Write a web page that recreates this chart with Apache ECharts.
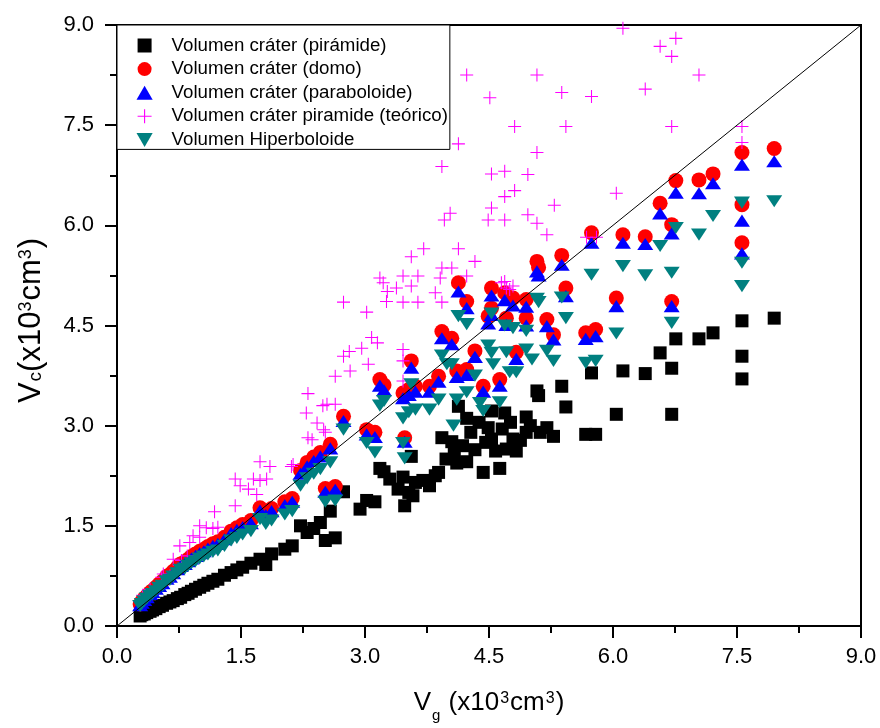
<!DOCTYPE html>
<html>
<head>
<meta charset="utf-8">
<script src="https://cdn.jsdelivr.net/npm/echarts@6/dist/echarts.min.js"></script>
<style>
  html, body { margin: 0; padding: 0; background: #fff; }
  #main { width: 880px; height: 728px; }
</style>
</head>
<body>
<div id="main"></div>
<script>
// volumen pirámide (negro)
var piramide = [
  [7.95,4.61],[7.56,4.57],[7.56,4.04],[7.56,3.70],[7.21,4.39],[7.04,4.30],[6.76,4.30],[6.71,3.86],[6.71,3.17],[6.57,4.09],
  [6.39,3.78],[6.12,3.82],[6.04,3.17],[5.79,2.87],[5.74,3.79],[5.67,2.87],[5.43,3.28],[5.38,3.59],[5.28,2.84],[5.20,2.97],
  [5.08,3.52],[5.10,3.45],
  [4.95,3.13],[4.95,2.90],[4.83,2.62],[4.79,2.80],[4.71,2.65],[4.69,3.19],[4.63,2.36],[4.53,3.22],[4.53,2.80],[4.49,2.97],
  [4.43,2.30],[4.33,2.64],[4.23,3.11],[4.23,2.46],[4.13,3.29],[4.11,2.44],[4.05,2.76],[3.93,2.82],[3.89,2.30],[3.78,2.10],
  [3.61,2.15],[3.56,2.54],[3.53,2.00],[3.48,1.80],[3.46,2.23],[3.23,2.31],[3.18,2.36],[3.12,1.86],[3.02,1.88],[2.74,2.01],
  [3.40,2.05],[3.58,1.95],[3.70,2.18],[3.85,2.25],[3.98,2.50],[4.08,2.60],[4.18,2.70],[4.28,2.90],[4.38,3.05],[4.46,2.75],
  [4.58,2.62],[4.66,2.95],[4.76,3.05],[4.88,2.78],[5.00,3.00],[5.12,2.90],[3.30,2.20],[2.94,1.75],
  [2.64,1.32],[2.58,1.72],[2.52,1.28],[2.46,1.55],[2.38,1.46],[2.30,1.40],[2.22,1.50],[2.12,1.20],[2.03,1.15],[1.87,1.08],
  [1.80,0.92],[1.73,1.00],[1.62,0.94],[1.52,0.88],[1.45,0.84],[1.38,0.80],[1.30,0.76],[1.22,0.70],[1.16,0.67],[1.10,0.64],
  [1.05,0.61],[1.00,0.58],[0.95,0.55],[0.90,0.52],[0.86,0.49],[0.82,0.47],[0.77,0.43],[0.73,0.41],[0.68,0.38],[0.64,0.36],
  [0.60,0.34],[0.55,0.31],[0.51,0.29],[0.47,0.26],[0.43,0.24],[0.40,0.22],[0.36,0.20],[0.33,0.18],[0.30,0.17],[0.28,0.15]
];
// volumen domo (rojo)
var domo = [
  [7.95,7.15],[7.56,7.09],[7.56,6.31],[7.56,5.74],[7.21,6.77],[7.04,6.68],[6.76,6.67],[6.71,6.01],[6.71,4.86],[6.57,6.33],
  [6.39,5.83],[6.12,5.86],[6.04,4.91],[5.79,4.44],[5.74,5.89],[5.67,4.39],[5.43,5.06],[5.38,5.55],[5.28,4.36],[5.20,4.59],
  [5.08,5.46],[5.10,5.37],
  [4.95,4.89],[4.95,4.61],[4.83,4.10],[4.79,4.91],[4.71,4.61],[4.69,4.99],[4.63,3.69],[4.53,5.06],[4.53,4.76],[4.49,4.64],
  [4.43,3.59],[4.33,4.12],[4.23,4.86],[4.23,3.84],[4.13,5.14],[4.11,3.82],[4.05,4.31],[3.93,4.41],[3.89,3.74],[3.78,3.59],
  [3.61,3.59],[3.56,3.97],[3.53,3.54],[3.48,2.82],[3.46,3.49],[3.23,3.61],[3.18,3.69],[3.12,2.90],[3.02,2.94],[2.74,3.14],
  [2.64,2.09],[2.58,2.72],[2.52,2.06],[2.46,2.60],[2.38,2.53],[2.30,2.45],[2.22,2.33],[2.12,1.91],[2.03,1.86],[1.87,1.76],
  [1.80,1.70],[1.73,1.77],[1.62,1.58],[1.52,1.52],[1.45,1.47],[1.38,1.42],[1.30,1.33],[1.22,1.26],[1.16,1.23],[1.10,1.19],
  [1.05,1.15],[1.00,1.12],[0.95,1.08],[0.90,1.04],[0.86,1.00],[0.82,0.96],[0.77,0.93],[0.73,0.88],[0.68,0.82],[0.64,0.77],
  [0.60,0.74],[0.55,0.67],[0.51,0.63],[0.47,0.58],[0.43,0.53],[0.40,0.50],[0.36,0.45],[0.33,0.41],[0.30,0.37],[0.28,0.33]
];
// volumen paraboloide (azul)
var paraboloide = [
  [7.95,6.96],[7.56,6.91],[7.56,6.07],[7.56,5.58],[7.21,6.63],[7.04,6.48],[6.76,6.49],[6.71,5.88],[6.71,4.79],[6.57,6.18],
  [6.39,5.72],[6.12,5.74],[6.04,4.79],[5.79,4.34],[5.74,5.74],[5.67,4.30],[5.43,4.94],[5.38,5.41],[5.28,4.29],[5.20,4.49],
  [5.08,5.31],[5.10,5.25],
  [4.95,4.78],[4.95,4.50],[4.83,4.00],[4.79,4.80],[4.71,4.51],[4.69,4.88],[4.63,3.60],[4.53,4.95],[4.53,4.66],[4.49,4.53],
  [4.43,3.51],[4.33,4.03],[4.23,4.76],[4.23,3.76],[4.13,5.01],[4.11,3.73],[4.05,4.22],[3.93,4.31],[3.89,3.66],[3.78,3.51],
  [3.61,3.51],[3.56,3.87],[3.53,3.46],[3.48,2.76],[3.46,3.41],[3.23,3.53],[3.18,3.60],[3.12,2.83],[3.02,2.87],[2.74,3.07],
  [2.64,2.04],[2.58,2.66],[2.52,2.01],[2.46,2.54],[2.38,2.47],[2.30,2.39],[2.22,2.28],[2.12,1.86],[2.03,1.81],[1.87,1.72],
  [1.80,1.66],[1.73,1.73],[1.62,1.54],[1.52,1.48],[1.45,1.44],[1.38,1.39],[1.30,1.30],[1.22,1.23],[1.16,1.20],[1.10,1.16],
  [1.05,1.12],[1.00,1.09],[0.95,1.05],[0.90,1.01],[0.86,0.97],[0.82,0.93],[0.77,0.90],[0.73,0.85],[0.68,0.79],[0.64,0.74],
  [0.60,0.71],[0.55,0.64],[0.51,0.60],[0.47,0.56],[0.43,0.51],[0.40,0.48],[0.36,0.43],[0.33,0.39],[0.30,0.35],[0.28,0.31]
];
// volumen pirámide teórico (magenta)
var teorico = [
  [6.12,8.95],[6.57,8.68],[6.76,8.80],[6.71,8.53],[7.04,8.25],[6.39,8.04],[5.08,8.25],[5.38,7.99],[5.74,7.93],[4.81,7.48],
  [5.43,7.48],[6.71,7.48],[7.56,7.48],[7.56,7.24],[5.08,7.09],[4.69,6.81],[4.97,6.76],[4.81,6.52],[4.69,6.43],[5.29,6.30],
  [4.97,6.16],[5.08,6.03],[4.69,6.08],[5.20,5.86],[6.04,6.48],[5.68,5.82],[5.80,5.82],[4.69,5.16],[4.79,5.09],
  [4.23,8.25],[4.51,7.91],[4.13,7.22],[3.93,6.88],[4.53,6.77],[4.53,6.26],[4.03,6.18],[3.96,6.08],[4.49,6.08],[3.71,5.65],
  [3.56,5.53],[4.13,5.65],[4.33,5.46],[3.93,5.36],[4.05,5.36],[3.18,5.21],[3.22,5.14],[3.46,5.24],[3.64,5.24],[3.91,5.21],
  [4.23,5.24],[3.38,5.06],[3.56,5.09],[3.27,5.01],[3.26,4.86],[3.46,4.85],[3.64,4.85],[2.74,4.85],[3.02,4.70],[3.85,4.99],
  [3.93,4.85],[4.65,5.14],[4.71,5.06],[4.75,5.04],
  [3.08,4.32],[3.15,4.24],[2.96,4.16],[2.74,4.04],[2.81,4.11],[3.04,3.92],[2.82,3.82],[2.64,3.74],[3.46,4.14],[3.46,3.97],
  [2.54,3.32],[2.64,3.32],[2.50,2.94],[3.46,3.67],
  [2.31,3.48],[2.29,3.19],[2.49,3.30],[2.42,3.04],[2.31,2.82],[2.36,2.79],[2.52,2.90],[1.73,2.46],[1.85,2.39],[2.11,2.39],
  [2.13,2.42],[1.43,2.20],[1.65,2.20],[1.73,2.18],[1.81,2.20],[1.49,2.10],[1.59,2.05],[1.69,1.97],[1.43,1.80],[1.18,1.71],
  [1.00,1.50],[1.08,1.47],[1.16,1.46],[1.22,1.48],[0.92,1.35],[1.00,1.33],[0.76,1.20],[0.88,1.25],[0.68,1.00],[0.78,0.98],
  [0.85,1.05],[0.56,0.78],[0.64,0.75],[0.54,0.73],[0.40,0.55],[0.31,0.46],[0.27,0.37]
];
// volumen hiperboloide (verde azulado)
var hiperboloide = [
  [7.95,6.36],[7.56,6.34],[7.56,5.44],[7.56,5.09],[7.21,6.14],[7.04,5.86],[6.76,5.96],[6.71,5.29],[6.71,4.54],[6.57,5.69],
  [6.39,5.25],[6.12,5.39],[6.04,4.38],[5.79,3.97],[5.74,5.26],[5.67,3.94],[5.43,4.61],[5.38,4.92],[5.28,3.97],[5.20,4.12],
  [5.08,4.90],[5.10,4.85],
  [4.95,4.42],[4.95,4.14],[4.83,3.80],[4.79,4.46],[4.71,4.10],[4.69,4.50],[4.63,3.35],[4.53,4.68],[4.53,4.09],[4.49,4.20],
  [4.43,3.22],[4.33,3.75],[4.23,4.52],[4.23,3.50],[4.13,4.64],[4.11,3.39],[4.05,3.92],[3.93,4.05],[3.89,3.39],[3.78,3.24],
  [3.61,3.24],[3.56,3.62],[3.53,3.20],[3.48,2.51],[3.46,3.11],[3.23,3.37],[3.18,3.30],[3.12,2.60],[3.02,2.74],[2.74,2.94],
  [4.55,3.92],[4.75,3.80],[5.02,3.99],[4.39,3.34],[4.07,3.00],[3.46,2.74],[3.99,3.92],
  [2.64,1.88],[2.58,2.45],[2.52,1.86],[2.46,2.35],[2.38,2.28],[2.30,2.21],[2.22,2.10],[2.12,1.72],[2.03,1.67],[1.87,1.58],
  [1.80,1.53],[1.73,1.60],[1.62,1.42],[1.52,1.37],[1.45,1.32],[1.38,1.28],[1.30,1.20],[1.22,1.13],[1.16,1.11],[1.10,1.07],
  [1.05,1.04],[1.00,1.01],[0.95,0.97],[0.90,0.94],[0.86,0.90],[0.82,0.86],[0.77,0.84],[0.73,0.79],[0.68,0.74],[0.64,0.69],
  [0.60,0.67],[0.55,0.60],[0.51,0.57],[0.47,0.52],[0.43,0.48],[0.40,0.45],[0.36,0.41],[0.33,0.37],[0.30,0.33],[0.28,0.30]
];
// recta Vc = Vg
var identidad = [[0, 0], [9, 9]];

var nombres = [
  'Volumen cráter (pirámide)',
  'Volumen cráter (domo)',
  'Volumen cráter (paraboloide)',
  'Volumen cráter piramide (teórico)',
  'Volumen Hiperboloide'
];

var FONT = 'Liberation Sans, Arial, Helvetica, sans-serif';
var CUADRO = 'path://M0,0H10V10H0Z';
var TRI_ARRIBA = 'path://M5,0L10,8.66L0,8.66Z';
var TRI_ABAJO = 'path://M0,0H10L5,8.66Z';
var CRUZ = 'path://M0,4.6H10V5.4H0Z M4.6,0H5.4V10H4.6Z';

function serie(nombre, datos, simbolo, tam, color) {
  return {
    name: nombre,
    type: 'scatter',
    data: datos,
    symbol: simbolo,
    symbolSize: tam,
    symbolKeepAspect: true,
    itemStyle: { color: color, opacity: 1 },
    emphasis: { disabled: true },
    z: 2
  };
}

var chart = echarts.init(document.getElementById('main'));
var ejeComun = {
  type: 'value',
  min: 0,
  max: 9,
  interval: 1.5,
  axisLine: { show: true, onZero: false, lineStyle: { color: '#000', width: 2 } },
  axisTick: { show: true, inside: false, length: 12, lineStyle: { color: '#000', width: 2 } },
  minorTick: { show: true, splitNumber: 2, length: 7, lineStyle: { color: '#000', width: 2 } },
  splitLine: { show: false },
  minorSplitLine: { show: false },
  nameLocation: 'middle',
  axisLabel: {
    color: '#000',
    fontFamily: FONT,
    fontSize: 22,
    formatter: function (v) { return v.toFixed(1); }
  }
};

var option = {
  animation: false,
  backgroundColor: '#fff',
  grid: {
    left: 117, right: 19, top: 25, bottom: 101,
    show: true, borderColor: '#000', borderWidth: 2, backgroundColor: 'transparent'
  },
  legend: {
    orient: 'vertical',
    left: 117,
    top: 25,
    data: nombres,
    itemWidth: 44,
    itemHeight: 14,
    itemGap: 4.6,
    padding: [11, 2, 0, 19.5],
    backgroundColor: '#fff',
    borderColor: '#000',
    borderWidth: 1,
    borderRadius: 0,
    selectedMode: false,
    z: 10,
    textStyle: { color: '#000', fontFamily: FONT, fontSize: 18.7, lineHeight: 19 }
  },
  xAxis: Object.assign({}, ejeComun, {
    name: '{i|V}{sub|g}{i| (x10}{sup|3}{i|cm}{sup|3}{i|)}',
    nameGap: 56,
    nameTextStyle: {
      color: '#000', fontFamily: FONT, fontSize: 26,
      rich: {
        i: { fontFamily: FONT, fontSize: 26, color: '#000', verticalAlign: 'middle' },
        sub: { fontFamily: FONT, fontSize: 15, color: '#000', verticalAlign: 'middle', padding: [26, 1, 0, 1] },
        sup: { fontFamily: FONT, fontSize: 16, color: '#000', verticalAlign: 'middle', padding: [0, 1, 8, 1] }
      }
    },
    axisLabel: Object.assign({}, ejeComun.axisLabel, { margin: 20 })
  }),
  yAxis: Object.assign({}, ejeComun, {
    name: '{i|V}{sub|c}{i|(x10}{sup|3}{i|cm}{sup|3}{i|)}',
    nameGap: 70,
    nameTextStyle: {
      color: '#000', fontFamily: FONT, fontSize: 31,
      padding: [0, 0, 0, 10],
      rich: {
        i: { fontFamily: FONT, fontSize: 31, color: '#000', verticalAlign: 'middle' },
        sub: { fontFamily: FONT, fontSize: 19, color: '#000', verticalAlign: 'middle', padding: [8, 0, 0, 1] },
        sup: { fontFamily: FONT, fontSize: 18, color: '#000', verticalAlign: 'middle', padding: [0, 1, 10, 0] }
      }
    },
    axisLabel: Object.assign({}, ejeComun.axisLabel, { margin: 23 })
  }),
  series: [
    serie(nombres[0], piramide, CUADRO, [13, 13], '#000000'),
    serie(nombres[1], domo, 'circle', 15, '#ff0000'),
    serie(nombres[2], paraboloide, TRI_ARRIBA, [16, 14], '#0000ff'),
    serie(nombres[3], teorico, CRUZ, [13, 13], '#ff00ff'),
    serie(nombres[4], hiperboloide, TRI_ABAJO, [16, 14], '#008080'),
    {
      type: 'line',
      data: identidad,
      symbol: 'none',
      silent: true,
      lineStyle: { color: '#000', width: 1 },
      z: 3
    }
  ]
};
chart.setOption(option);
</script>
</body>
</html>
